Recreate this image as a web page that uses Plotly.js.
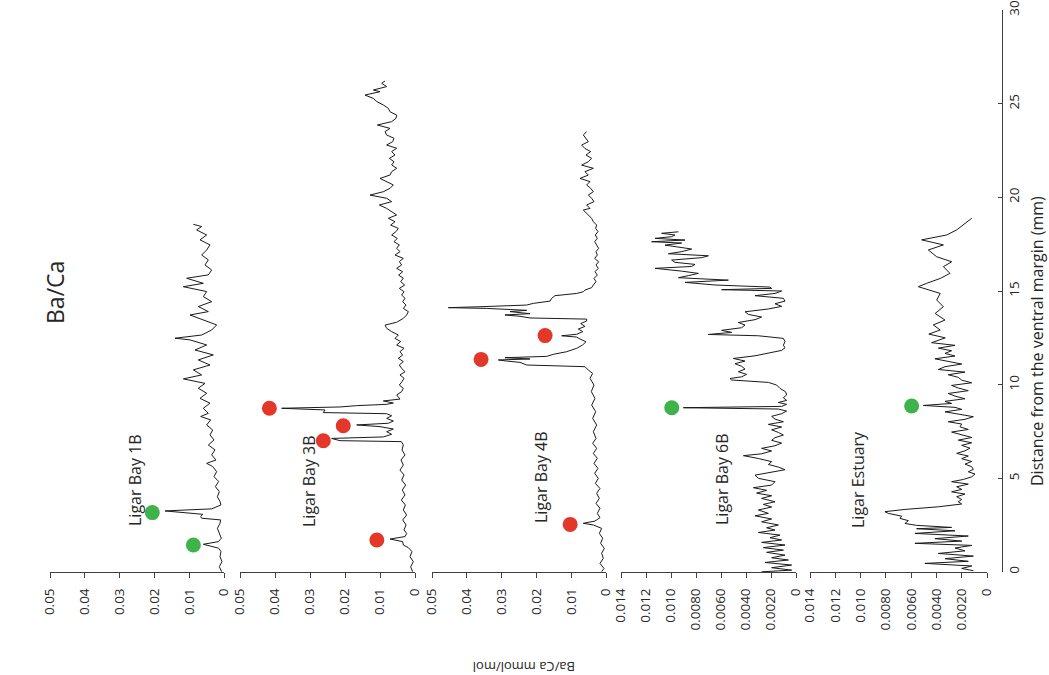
<!DOCTYPE html>
<html>
<head>
<meta charset="utf-8">
<script src="https://cdn.plot.ly/plotly-3.0.1.min.js"></script>
<style>
  html, body { margin: 0; padding: 0; background: #ffffff; }
  #chart { width: 1049px; height: 675px; }
</style>
</head>
<body>
<div id="chart"></div>
<script>
// Ba/Ca profiles (mmol/mol) against distance from the ventral margin (mm)

// Ligar Bay 1B
const dist1 = [0.02,0.29,0.55,0.82,1.09,1.27,1.48,1.62,1.80,2.07,2.33,2.60,2.78,2.87,2.96,3.08,3.26,3.37,3.58,3.76,4.02,4.29,4.56,4.83,5.09,5.36,5.63,5.80,5.98,6.25,6.52,6.78,7.05,7.32,7.58,7.85,8.12,8.30,8.47,8.74,9.01,9.27,9.54,9.81,10.07,10.31,10.52,10.79,11.05,11.32,11.59,11.85,12.12,12.39,12.48,12.65,12.92,13.19,13.46,13.72,13.90,14.17,14.43,14.70,14.97,15.23,15.41,15.68,15.86,16.12,16.39,16.66,16.92,17.19,17.46,17.73,17.99,18.26,18.44,18.56];
const baca1 = [0.00067,0.00134,0.00058,0.00115,0.00087,0.00153,0.00594,0.00163,0.00077,0.00134,0.0019,0.00115,0.00096,0.00642,0.0067,0.00613,0.01695,0.00354,0.00087,0.00115,0.0019,0.00134,0.00249,0.00153,0.00287,0.00211,0.00326,0.00498,0.0023,0.00354,0.00259,0.0045,0.00287,0.00402,0.00326,0.00498,0.00383,0.0067,0.0045,0.00594,0.00402,0.0069,0.00498,0.00738,0.00546,0.01169,0.00642,0.00881,0.00402,0.00738,0.00307,0.00833,0.00498,0.00977,0.01408,0.00642,0.00354,0.00211,0.00594,0.00977,0.0045,0.00738,0.00354,0.00594,0.00498,0.01169,0.00594,0.01073,0.0045,0.00354,0.00546,0.0045,0.00642,0.00498,0.00402,0.0069,0.00498,0.00786,0.00642,0.00881];

// Ligar Bay 3B
const dist3 = [0.02,0.28,0.55,0.82,1.09,1.30,1.44,1.62,1.76,1.89,2.06,2.24,2.51,2.78,3.04,3.31,3.58,3.84,4.11,4.38,4.64,4.91,5.18,5.44,5.71,5.98,6.25,6.51,6.78,6.96,7.01,7.13,7.21,7.35,7.49,7.63,7.76,7.85,7.94,8.06,8.20,8.34,8.45,8.51,8.65,8.74,8.81,8.88,8.95,9.02,9.13,9.23,9.45,9.63,9.80,9.98,10.16,10.34,10.52,10.69,10.87,11.05,11.23,11.41,11.58,11.76,11.94,12.12,12.30,12.47,12.65,12.83,13.01,13.18,13.33,13.54,13.72,13.90,14.07,14.25,14.43,14.61,14.79,14.96,15.14,15.32,15.50,15.68,15.85,16.03,16.21,16.39,16.57,16.74,16.92,17.10,17.28,17.46,17.63,17.81,17.99,18.17,18.34,18.52,18.70,18.88,19.06,19.23,19.41,19.59,19.77,19.95,20.12,20.30,20.48,20.66,20.84,21.01,21.19,21.37,21.55,21.73,21.90,22.08,22.26,22.44,22.62,22.79,22.97,23.15,23.33,23.51,23.68,23.86,24.04,24.22,24.39,24.57,24.75,24.93,25.11,25.28,25.46,25.64,25.73,25.91,26.09,26.21];
const baca3 = [0.00067,0.00124,0.00048,0.00143,0.00086,0.0019,0.00333,0.00352,0.00714,0.00286,0.00238,0.00314,0.00257,0.00352,0.00238,0.00333,0.00276,0.0039,0.00286,0.00362,0.00267,0.00381,0.00314,0.00429,0.00333,0.004,0.00286,0.00371,0.00333,0.0039,0.02143,0.02381,0.00905,0.00667,0.0081,0.00619,0.01,0.01667,0.00762,0.00619,0.0081,0.00667,0.0081,0.02619,0.02571,0.0381,0.02143,0.01667,0.0081,0.00619,0.00905,0.00429,0.00524,0.00381,0.00333,0.00448,0.00371,0.00314,0.00429,0.00286,0.00381,0.00448,0.00333,0.00476,0.00352,0.00429,0.00314,0.00524,0.0041,0.00571,0.00476,0.00667,0.0081,0.00857,0.00524,0.00333,0.00238,0.0019,0.00333,0.00257,0.00352,0.00286,0.00381,0.00314,0.00448,0.00295,0.0041,0.00333,0.00467,0.00352,0.00524,0.00381,0.00448,0.00333,0.00571,0.00429,0.00524,0.00448,0.006,0.00505,0.00667,0.00543,0.00476,0.00695,0.00571,0.00762,0.00524,0.00667,0.0081,0.01019,0.00667,0.0081,0.01286,0.00905,0.00714,0.00619,0.0081,0.01,0.00714,0.00667,0.00524,0.00667,0.006,0.00733,0.00571,0.00667,0.00524,0.0081,0.00638,0.006,0.0081,0.00857,0.00714,0.01076,0.00667,0.00543,0.00524,0.00714,0.00762,0.00905,0.0109,0.0119,0.01429,0.01,0.0119,0.0081,0.00952,0.00857];

// Ligar Bay 4B
const dist4 = [0.02,0.19,0.46,0.73,1.00,1.26,1.53,1.80,2.06,2.33,2.51,2.60,2.72,2.90,3.13,3.40,3.66,3.93,4.20,4.46,4.73,5.00,5.27,5.53,5.80,6.07,6.33,6.60,6.87,7.13,7.49,7.85,8.20,8.56,8.91,9.27,9.63,9.98,10.34,10.60,10.78,10.96,11.05,11.19,11.26,11.32,11.37,11.44,11.51,11.62,11.76,11.94,12.12,12.29,12.44,12.54,12.61,12.69,12.83,12.97,13.11,13.26,13.40,13.50,13.56,13.65,13.72,13.79,13.90,13.97,14.07,14.11,14.16,14.25,14.34,14.46,14.61,14.75,14.87,14.96,15.05,15.18,15.32,15.50,15.67,15.85,16.03,16.21,16.39,16.56,16.74,16.92,17.10,17.28,17.45,17.63,17.81,17.99,18.17,18.34,18.52,18.70,18.88,19.06,19.23,19.32,19.41,19.59,19.77,19.95,20.12,20.30,20.48,20.66,20.84,21.01,21.19,21.37,21.55,21.72,21.90,22.08,22.26,22.44,22.61,22.79,22.97,23.15,23.33,23.50];
const baca4 = [0.00125,0.00058,0.00173,0.00077,0.00125,0.00048,0.00154,0.00096,0.00192,0.00125,0.00364,0.00652,0.00316,0.00173,0.00249,0.00173,0.00287,0.00192,0.00268,0.00173,0.00307,0.00221,0.00326,0.0023,0.00345,0.00249,0.00364,0.00268,0.00383,0.00287,0.00364,0.00268,0.00383,0.00297,0.00412,0.00316,0.00422,0.00345,0.0046,0.00383,0.00508,0.00604,0.0228,0.02471,0.02855,0.03094,0.02184,0.02903,0.01705,0.01514,0.0113,0.00843,0.0067,0.00575,0.00747,0.00843,0.01274,0.00843,0.0067,0.00795,0.00604,0.00728,0.00556,0.00556,0.02184,0.02471,0.02903,0.02184,0.02759,0.0228,0.03429,0.0453,0.0362,0.0228,0.02088,0.01609,0.01561,0.01466,0.00843,0.00652,0.00604,0.00412,0.00364,0.00287,0.00345,0.00249,0.00316,0.00221,0.00287,0.00211,0.00326,0.00249,0.00287,0.00211,0.00268,0.00326,0.00249,0.00307,0.0023,0.00297,0.00268,0.00364,0.00412,0.00508,0.00575,0.00652,0.0046,0.00556,0.00345,0.00412,0.00508,0.00364,0.00441,0.00556,0.0046,0.00747,0.00508,0.00604,0.00364,0.007,0.00508,0.00412,0.00575,0.00441,0.00604,0.007,0.00508,0.00575,0.00652,0.00556];

// Ligar Bay 6B
const dist6 = [0.01,0.10,0.23,0.37,0.51,0.64,0.76,0.90,1.05,1.17,1.30,1.44,1.58,1.71,1.83,1.97,2.11,2.24,2.36,2.51,2.68,2.83,3.00,3.13,3.31,3.47,3.61,3.75,3.93,4.07,4.21,4.36,4.50,4.64,4.82,5.00,5.17,5.32,5.46,5.60,5.74,5.89,6.06,6.21,6.31,6.46,6.60,6.74,6.88,7.03,7.17,7.31,7.45,7.59,7.74,7.88,8.02,8.16,8.31,8.45,8.59,8.70,8.77,8.84,8.95,9.05,9.16,9.30,9.45,9.62,9.80,9.98,10.12,10.25,10.33,10.42,10.55,10.69,10.83,10.98,11.12,11.26,11.40,11.54,11.69,11.83,11.97,12.11,12.29,12.47,12.61,12.68,12.79,12.90,13.04,13.18,13.32,13.47,13.61,13.75,13.89,14.04,14.18,14.32,14.46,14.61,14.75,14.87,15.00,15.07,15.14,15.21,15.32,15.46,15.58,15.71,15.82,15.94,16.06,16.21,16.31,16.42,16.53,16.65,16.78,16.88,16.99,17.10,17.24,17.35,17.45,17.56,17.63,17.72,17.81,17.90,17.99,18.08,18.16];
const baca6 = [0.00275,0.00035,0.00195,0.00035,0.00248,0.00061,0.00195,0.00088,0.00235,0.00101,0.00261,0.00088,0.00275,0.00115,0.00208,0.00128,0.00301,0.00168,0.00235,0.00141,0.00275,0.00195,0.00328,0.00221,0.00301,0.00195,0.00261,0.00168,0.00275,0.00195,0.00315,0.00235,0.00341,0.00195,0.00168,0.00301,0.00328,0.00195,0.00088,0.00141,0.00221,0.00195,0.00301,0.00421,0.00275,0.00195,0.00275,0.00168,0.00115,0.00195,0.00168,0.00101,0.00141,0.00195,0.00115,0.00221,0.00101,0.00168,0.00195,0.00115,0.00075,0.00141,0.00901,0.00115,0.00075,0.00141,0.00075,0.00101,0.00075,0.00083,0.00128,0.00155,0.00221,0.00515,0.00528,0.00435,0.00395,0.00461,0.00408,0.00435,0.00488,0.00408,0.00501,0.00328,0.00221,0.00115,0.00088,0.00101,0.00088,0.00101,0.00301,0.00701,0.00515,0.00595,0.00435,0.00408,0.00461,0.00328,0.00275,0.00381,0.00408,0.00221,0.00115,0.00168,0.00088,0.00101,0.00328,0.00168,0.00115,0.00595,0.00195,0.00208,0.00648,0.00888,0.00541,0.00941,0.00861,0.00781,0.00915,0.01128,0.00835,0.00808,0.00968,0.00995,0.00755,0.00701,0.01021,0.00915,0.00835,0.00968,0.01048,0.00915,0.01155,0.00888,0.01128,0.00995,0.00968,0.01075,0.00941];

// Ligar Estuary
const distE = [0.07,0.19,0.32,0.46,0.57,0.71,0.85,0.99,1.13,1.28,1.42,1.53,1.65,1.78,1.92,2.06,2.20,2.31,2.38,2.49,2.59,2.74,2.86,2.98,3.13,3.22,3.34,3.48,3.63,3.75,3.87,4.02,4.16,4.28,4.41,4.55,4.69,4.82,4.94,5.08,5.23,5.35,5.48,5.62,5.76,5.90,6.05,6.19,6.33,6.47,6.61,6.76,6.90,7.04,7.18,7.33,7.47,7.61,7.75,7.90,8.02,8.15,8.29,8.43,8.55,8.68,8.79,8.89,9.00,9.11,9.25,9.39,9.53,9.68,9.82,9.96,10.10,10.24,10.39,10.53,10.67,10.81,10.96,11.10,11.24,11.38,11.53,11.67,11.81,11.95,12.10,12.24,12.50,12.70,12.92,13.19,13.45,13.80,14.16,14.52,14.87,15.23,15.41,15.67,15.94,16.30,16.56,16.83,17.19,17.46,17.73,17.99,18.26,18.62,18.88];
const bacaE = [0.00108,0.0020,0.00121,0.00491,0.00148,0.00332,0.00108,0.00385,0.00174,0.00253,0.00121,0.0057,0.0020,0.00412,0.00148,0.0057,0.00253,0.00557,0.0028,0.00557,0.00649,0.00622,0.00688,0.00675,0.00781,0.00807,0.00649,0.00385,0.0020,0.00227,0.0020,0.0024,0.00174,0.0028,0.0020,0.0024,0.00148,0.0028,0.00187,0.00121,0.00095,0.00148,0.00108,0.00121,0.00174,0.00121,0.0020,0.00148,0.0024,0.00174,0.00135,0.0020,0.00121,0.00227,0.00121,0.0020,0.0028,0.00148,0.00214,0.0020,0.00306,0.00174,0.00108,0.00227,0.00332,0.0020,0.00253,0.00504,0.0028,0.00332,0.00174,0.00253,0.00306,0.00148,0.00227,0.0028,0.00121,0.0020,0.00227,0.00306,0.00174,0.00385,0.00332,0.0020,0.00306,0.00412,0.00253,0.00332,0.0028,0.00385,0.00253,0.00438,0.0033,0.0046,0.0037,0.00425,0.00332,0.0041,0.00345,0.00398,0.0037,0.00543,0.00477,0.0037,0.00293,0.00345,0.00279,0.00398,0.00464,0.00345,0.00517,0.00319,0.0024,0.00174,0.00121];

// Highlighted peaks
const dotDist1 = [1.44, 3.17];
const dotVal1 = [0.0088, 0.0206];
const dotDist3 = [1.71, 7.01, 7.81, 8.74];
const dotVal3 = [0.0109, 0.0262, 0.0205, 0.0416];
const dotDist4 = [2.54, 11.35, 12.62, 14.04];
const dotVal4 = [0.0103, 0.0359, 0.0175, 0.0506];
const dotDist6 = [8.77];
const dotVal6 = [0.00994];
const dotDistE = [8.86];
const dotValE = [0.00596];

// Axis ticks
const wideTicks = [0, 0.01, 0.02, 0.03, 0.04, 0.05];
const wideLabels = ['0', '0.01', '0.02', '0.03', '0.04', '0.05'];
const narrowTicks = [0, 0.002, 0.004, 0.006, 0.008, 0.010, 0.012, 0.014];
const narrowLabels = ['0', '0.0020', '0.0040', '0.0060', '0.0080', '0.010', '0.012', '0.014'];
const distTicks = [0, 5, 10, 15, 20, 25, 30];
const distLabels = ['0', '5', '10', '15', '20', '25', '30'];

const panelNames = ['Ligar Bay 1B', 'Ligar Bay 3B', 'Ligar Bay 4B', 'Ligar Bay 6B', 'Ligar Estuary'];

const W = 1049, H = 675;
const px = x => x / W;
const py = y => 1 - y / H;
const FONT = 'Open Sans, Liberation Sans, sans-serif';
const AXIS = '#404040';
const TEXT = '#262626';
const RED = '#e3372a';
const GREEN = '#3fb34a';

function profile(dist, val, xa, dotDist, dotVal, dotColor) {
  return [
    { type: 'scatter', mode: 'lines', x: val, y: dist, xaxis: xa, yaxis: 'y',
      line: { color: '#1a1a1a', width: 1 }, hoverinfo: 'skip', showlegend: false },
    { type: 'scatter', mode: 'markers', x: dotVal, y: dotDist, xaxis: xa, yaxis: 'y',
      marker: { color: dotColor, size: 15, line: { width: 0 } }, cliponaxis: false,
      hoverinfo: 'skip', showlegend: false }
  ];
}

const data = [].concat(
  profile(dist1, baca1, 'x', dotDist1, dotVal1, GREEN),
  profile(dist3, baca3, 'x2', dotDist3, dotVal3, RED),
  profile(dist4, baca4, 'x3', dotDist4, dotVal4, RED),
  profile(dist6, baca6, 'x4', dotDist6, dotVal6, GREEN),
  profile(distE, bacaE, 'x5', dotDistE, dotValE, GREEN)
);

function valueAxis(left, right, maxV, ticks, labels) {
  return {
    domain: [px(left), px(right)], range: [maxV, 0], anchor: 'y',
    tickmode: 'array', tickvals: ticks, ticktext: labels, tickangle: -90,
    ticks: 'outside', ticklen: 5, tickwidth: 1, tickcolor: AXIS,
    ticklabelstandoff: 5,
    showline: true, linecolor: AXIS, linewidth: 1,
    showgrid: false, zeroline: false, fixedrange: true,
    tickfont: { family: FONT, size: 13.5, color: TEXT }
  };
}

function label(text, x, y, size, angle) {
  return {
    xref: 'paper', yref: 'paper', x: px(x), y: py(y), text: text,
    showarrow: false, textangle: angle, xanchor: 'center', yanchor: 'middle',
    font: { family: FONT, size: size, color: TEXT }
  };
}

const layout = {
  width: W, height: H,
  margin: { l: 0, r: 0, t: 0, b: 0 },
  paper_bgcolor: '#ffffff', plot_bgcolor: '#ffffff',
  showlegend: false,
  xaxis: valueAxis(50, 224, 0.05, wideTicks, wideLabels),
  xaxis2: valueAxis(240, 415, 0.05, wideTicks, wideLabels),
  xaxis3: valueAxis(432, 606, 0.05, wideTicks, wideLabels),
  xaxis4: valueAxis(621, 796, 0.014, narrowTicks, narrowLabels),
  xaxis5: valueAxis(810, 987, 0.014, narrowTicks, narrowLabels),
  yaxis: {
    domain: [py(572), py(10)], range: [0, 30], anchor: 'free', position: px(1002), side: 'right',
    tickmode: 'array', tickvals: distTicks, ticktext: distLabels, tickangle: -90,
    ticks: 'inside', ticklen: 4, tickcolor: AXIS,
    ticklabeloverflow: 'allow',
    showline: true, linecolor: AXIS, linewidth: 1,
    showgrid: false, zeroline: false, fixedrange: true,
    tickfont: { family: FONT, size: 13.5, color: TEXT }
  },
  annotations: [
    label('Ba/Ca', 55, 293, 23, -90),
    label(panelNames[0], 135, 480, 16, -90),
    label(panelNames[1], 309, 481, 16, -90),
    label(panelNames[2], 541, 477, 16, -90),
    label(panelNames[3], 722, 479, 16, -90),
    label(panelNames[4], 858, 480, 16, -90),
    label('Distance from the ventral margin (mm)', 1037, 341, 16, -90),
    label('Ba/Ca mmol/mol', 524, 667, 13, 180)
  ]
};

Plotly.newPlot('chart', data, layout, { displayModeBar: false, staticPlot: true });
</script>
</body>
</html>
